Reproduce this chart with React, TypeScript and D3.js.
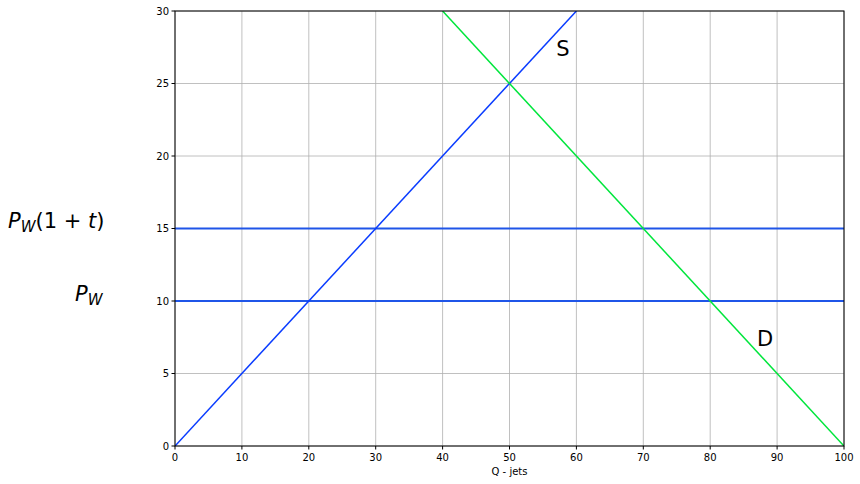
import * as d3 from "d3";

const xTicks = [0, 10, 20, 30, 40, 50, 60, 70, 80, 90, 100];
const yTicks = [0, 5, 10, 15, 20, 25, 30];
const supplyQ = [0, 60];
const supplyP = [0, 30];
const demandQ = [40, 100];
const demandP = [30, 0];
const priceLevels = [10, 15];

const W = 860;
const H = 484;
const m = { left: 175, right: 16, top: 11, bottom: 38 };
const font = "DejaVu Sans, sans-serif";

export default function App() {
  const x = d3.scaleLinear().domain([0, 100]).range([m.left, W - m.right]);
  const y = d3.scaleLinear().domain([0, 30]).range([H - m.bottom, m.top]);
  const line = d3
    .line<[number, number]>()
    .x((d) => x(d[0]))
    .y((d) => y(d[1]));
  const supply = supplyQ.map((q, i) => [q, supplyP[i]] as [number, number]);
  const demand = demandQ.map((q, i) => [q, demandP[i]] as [number, number]);

  return (
    <div style={{ position: "absolute", left: 0, top: 0 }}>
      <svg width={W} height={H} style={{ display: "block", background: "#fff" }}>
        <defs>
          <clipPath id="plot">
            <rect x={m.left} y={m.top} width={W - m.left - m.right} height={H - m.top - m.bottom} />
          </clipPath>
        </defs>
        {/* grid */}
        {xTicks.map((t) => (
          <line key={"gx" + t} x1={x(t)} x2={x(t)} y1={m.top} y2={H - m.bottom} stroke="#b0b0b0" strokeWidth={0.8} />
        ))}
        {yTicks.map((t) => (
          <line key={"gy" + t} x1={m.left} x2={W - m.right} y1={y(t)} y2={y(t)} stroke="#b0b0b0" strokeWidth={0.8} />
        ))}
        <g clipPath="url(#plot)">
          {priceLevels.map((p) => (
            <line key={"p" + p} x1={x(0)} x2={x(100)} y1={y(p)} y2={y(p)} stroke="#1f55e8" strokeWidth={2} />
          ))}
          <path d={line(supply) || ""} fill="none" stroke="#0a3cff" strokeWidth={1.5} />
          <path d={line(demand) || ""} fill="none" stroke="#00e63c" strokeWidth={1.5} />
        </g>
        {/* frame */}
        <rect x={m.left} y={m.top} width={W - m.left - m.right} height={H - m.top - m.bottom} fill="none" stroke="#000" strokeWidth={1} />
        {/* ticks */}
        {xTicks.map((t) => (
          <g key={"tx" + t}>
            <line x1={x(t)} x2={x(t)} y1={H - m.bottom} y2={H - m.bottom + 3.5} stroke="#000" />
            <text x={x(t)} y={H - m.bottom + 15} textAnchor="middle" fontSize={10} fontFamily={font}>
              {t}
            </text>
          </g>
        ))}
        {yTicks.map((t) => (
          <g key={"ty" + t}>
            <line x1={m.left - 3.5} x2={m.left} y1={y(t)} y2={y(t)} stroke="#000" />
            <text x={m.left - 6} y={y(t)} dy="0.35em" textAnchor="end" fontSize={10} fontFamily={font}>
              {t}
            </text>
          </g>
        ))}
        <text x={(m.left + W - m.right) / 2} y={H - 9} textAnchor="middle" fontSize={10} fontFamily={font}>
          Q - jets
        </text>
        {/* curve labels */}
        <text x={x(57)} y={y(27.4)} dy="0.35em" fontSize={21} fontFamily={font}>
          S
        </text>
        <text x={x(87)} y={y(7.4)} dy="0.35em" fontSize={21} fontFamily={font}>
          D
        </text>
        {/* price labels */}
        <text x={8} y={228} fontSize={21} fontFamily={font}>
          <tspan fontStyle="italic">P</tspan>
          <tspan fontStyle="italic" fontSize={15} dy={4}>W</tspan>
          <tspan dy={-4}>(1 + </tspan>
          <tspan fontStyle="italic">t</tspan>
          <tspan>)</tspan>
        </text>
        <text x={75} y={301} fontSize={21} fontFamily={font}>
          <tspan fontStyle="italic">P</tspan>
          <tspan fontStyle="italic" fontSize={15} dy={4}>W</tspan>
        </text>
      </svg>
    </div>
  );
}
